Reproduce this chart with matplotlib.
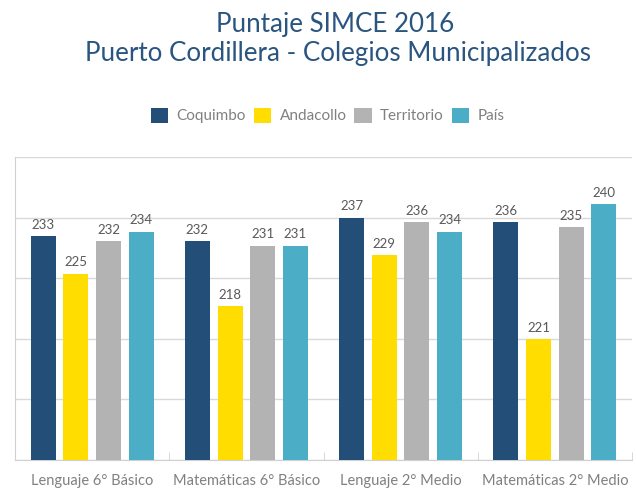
import matplotlib
matplotlib.use("Agg")
import matplotlib.pyplot as plt
import numpy as np

categories = ["Lenguaje 6° Básico", "Matemáticas 6° Básico", "Lenguaje 2° Medio", "Matemáticas 2° Medio"]
series_names = ["Coquimbo", "Andacollo", "Territorio", "País"]
# printed labels
coquimbo_labels = [233, 232, 237, 236]
andacollo_labels = [225, 218, 229, 221]
territorio_labels = [232, 231, 236, 235]
pais_labels = [234, 231, 234, 240]
# bar heights as drawn in the picture
coquimbo = [233, 232, 237, 236]
andacollo = [225, 218, 229, 211]
territorio = [232, 231, 236, 235]
pais = [234, 231, 234, 240]

colors = ["#224E78", "#FFDD00", "#B3B3B3", "#4BADC6"]
font = ["Lato", "DejaVu Sans"]

fig = plt.figure(figsize=(6.36, 4.91), dpi=100)
ax = fig.add_axes([0.0236, 0.0631, 0.9701, 0.6171])

x = np.arange(len(categories))
bw = 0.162
step = 0.212
all_vals = [coquimbo, andacollo, territorio, pais]
all_labels = [coquimbo_labels, andacollo_labels, territorio_labels, pais_labels]
for i, (vals, labs) in enumerate(zip(all_vals, all_labels)):
    pos = x + (i - 1.5) * step
    ax.bar(pos, vals, width=bw, color=colors[i], label=series_names[i], zorder=3)
    for p, v, l in zip(pos, vals, labs):
        ax.text(p, v + 1.1, str(l), ha="center", va="bottom", fontsize=9.5,
                color="#595959", family=font)

ax.set_xlim(-0.5, len(categories) - 0.5)
ax.set_ylim(185, 250)
ax.set_yticks([185 + 13 * k for k in range(6)])
ax.yaxis.grid(True, color="#D9D9D9", linewidth=1, zorder=0)
ax.tick_params(axis="y", length=0, labelleft=False)
ax.set_xticks(x)
ax.set_xticklabels(categories, fontsize=10.5, color="#808080", family=font)
ax.tick_params(axis="x", length=0, pad=10)
ax.set_xticks(np.arange(-0.5, len(categories)), minor=True)
ax.tick_params(axis="x", which="minor", direction="in", length=6, color="#D0D0D0")
for s in ["top", "right"]:
    ax.spines[s].set_visible(False)
for s in ["left", "bottom"]:
    ax.spines[s].set_color("#D0D0D0")

fig.text(0.527, 0.951, "Puntaje SIMCE 2016", ha="center", va="center", fontsize=18.7,
         color="#2A5580", family=font)
fig.text(0.531, 0.892, "Puerto Cordillera - Colegios Municipalizados", ha="center", va="center",
         fontsize=18.7, color="#2A5580", family=font)

leg = fig.legend(loc="center", bbox_to_anchor=(0.515, 0.765), ncol=4, frameon=False,
                 handlelength=1.15, handleheight=1.15, handletextpad=0.55, columnspacing=0.5,
                 prop={"family": font, "size": 11})
for t in leg.get_texts():
    t.set_color("#808080")

fig.savefig("out.png", dpi=100)
